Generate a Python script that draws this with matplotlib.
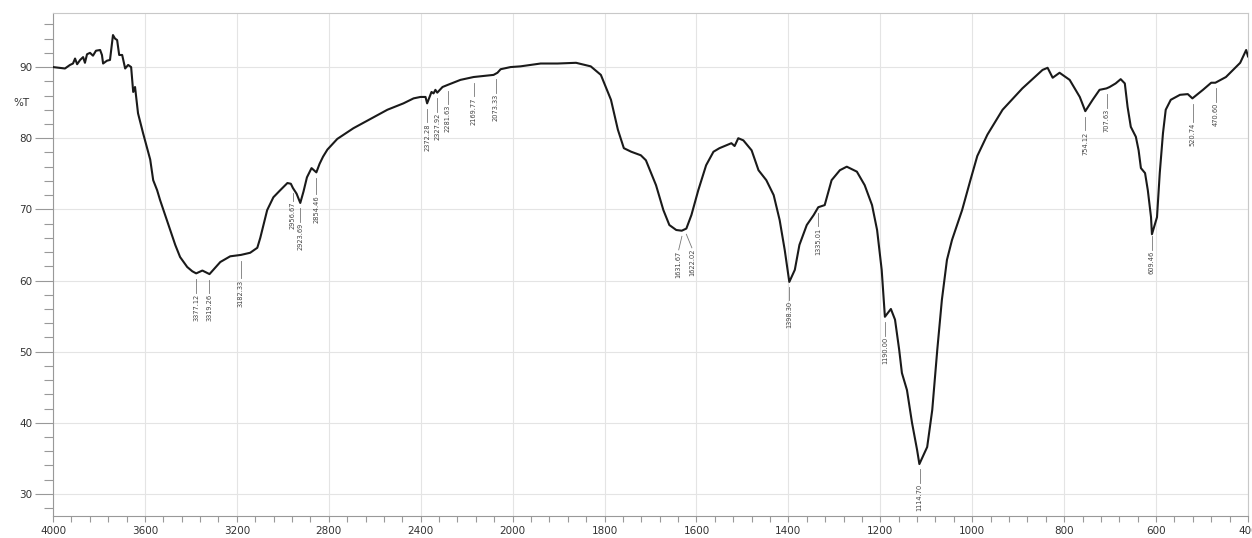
import numpy as np
import matplotlib
matplotlib.use("Agg")
from matplotlib import pyplot as plt
from matplotlib.ticker import FixedLocator, NullFormatter

# FTIR spectrum (wavenumber cm-1, %T)
wavenumber = [4000, 3948, 3926, 3913, 3904, 3895, 3882, 3869, 3861, 3852,
              3839, 3826, 3813, 3795, 3787, 3782, 3765, 3752, 3739, 3730,
              3721, 3712, 3699, 3686, 3673, 3660, 3651, 3643, 3630, 3608,
              3577, 3564, 3547, 3534, 3512, 3490, 3468, 3447, 3416, 3394,
              3377, 3350, 3319, 3272, 3229, 3182, 3142, 3111, 3098, 3068,
              3041, 3011, 2980, 2965, 2956, 2940, 2924, 2910, 2895, 2875,
              2854, 2840, 2825, 2806, 2763, 2693, 2619, 2545, 2475, 2431,
              2401, 2379, 2372, 2353, 2344, 2336, 2328, 2305, 2282, 2227,
              2170, 2083, 2066, 2052, 2009,
              1983, 1939, 1902, 1862, 1830, 1808, 1786, 1771, 1758, 1742,
              1721, 1710, 1688, 1672, 1659, 1644, 1632, 1622, 1611, 1596,
              1579, 1563, 1550, 1535, 1524, 1517, 1509, 1498, 1480, 1465,
              1448, 1432, 1419, 1408, 1398, 1386, 1376, 1360, 1345, 1335,
              1321, 1306, 1288, 1273, 1251, 1234, 1218, 1207, 1197, 1190,
              1177, 1168, 1159, 1153, 1142, 1131, 1120, 1115, 1098, 1087,
              1076, 1066, 1055, 1044, 1022, 1004, 989, 967, 934, 891,
              847, 836, 825, 810, 788, 766, 754, 738, 723, 708,
              701, 688, 677, 668, 662, 655, 644, 638, 633, 624,
              618, 611, 609, 598, 592, 585, 579, 568, 548, 531,
              521, 498, 480, 471, 448, 428, 417, 404, 400]
transmittance = [90.0, 89.8, 90.3, 90.5, 91.2, 90.4, 91.0, 91.4, 90.6, 91.8,
                 92.0, 91.6, 92.3, 92.4, 91.7, 90.5, 90.9, 91.0, 94.5, 94.0,
                 93.8, 91.7, 91.7, 89.8, 90.3, 90.0, 86.5, 87.2, 83.5, 80.7,
                 77.0, 74.1, 72.7, 71.3, 69.2, 67.1, 65.0, 63.3, 61.9, 61.3,
                 61.0, 61.4, 60.9, 62.6, 63.4, 63.6, 63.9, 64.6, 66.0, 69.9,
                 71.7, 72.7, 73.7, 73.6, 73.0, 72.2, 70.9, 72.5, 74.5, 75.8,
                 75.2, 76.4, 77.4, 78.4, 79.9, 81.4, 82.7, 84.0, 84.9, 85.6,
                 85.8, 85.8, 84.9, 86.5, 86.3, 86.8, 86.4, 87.2, 87.5, 88.2,
                 88.6, 88.9, 89.2, 89.7, 90.0,
                 90.1, 90.5, 90.5, 90.6, 90.1, 88.9, 85.4, 81.2, 78.6, 78.1,
                 77.6, 76.9, 73.4, 69.9, 67.8, 67.1, 67.0, 67.3, 69.2, 72.7,
                 76.2, 78.1, 78.6, 79.0, 79.3, 78.9, 80.0, 79.7, 78.3, 75.5,
                 74.1, 72.0, 68.5, 64.3, 59.8, 61.5, 65.0, 67.8, 69.2, 70.3,
                 70.6, 74.1, 75.5, 76.0, 75.3, 73.4, 70.6, 67.1, 61.5, 54.9,
                 56.0, 54.5, 50.3, 47.0, 44.6, 40.0, 36.2, 34.2, 36.6, 41.8,
                 50.3, 57.3, 62.9, 65.7, 69.9, 74.1, 77.5, 80.5, 84.0, 87.0,
                 89.6, 89.9, 88.5, 89.2, 88.2, 85.8, 83.8, 85.4, 86.8, 87.0,
                 87.2, 87.7, 88.3, 87.7, 84.4, 81.6, 80.2, 78.3, 75.8, 75.1,
                 72.7, 68.9, 66.5, 68.9, 75.1, 80.7, 84.0, 85.4, 86.1, 86.2,
                 85.6, 86.8, 87.8, 87.8, 88.6, 89.9, 90.6, 92.4, 91.5]

# picked peaks
peak_wn = [3377.12, 3319.26, 3182.33, 2956.67, 2923.69, 2854.46, 2372.28,
           2327.92, 2281.63, 2169.77, 2073.33, 1631.67, 1622.02, 1398.30,
           1335.01, 1190.00, 1114.70, 754.12, 707.63, 609.46, 520.74, 470.60]

x_major = [4000, 3600, 3200, 2800, 2400, 2000, 1800, 1600, 1400, 1200,
           1000, 800, 600, 400]
y_major = [30, 40, 50, 60, 70, 80, 90]


# the x axis is compressed 2x above 2000 cm-1, like the instrument printout
def fwd(x):
    x = np.asarray(x, dtype=float)
    return np.where(x >= 2000, 1000 + (x - 2000) / 2.0, x - 1000)


def inv(u):
    u = np.asarray(u, dtype=float)
    return np.where(u >= 1000, 2000 + (u - 1000) * 2.0, u + 1000)


fig = plt.figure(figsize=(12.52, 5.38), dpi=100)
ax = fig.add_axes([53 / 1252, 22 / 538, 1195 / 1252, 503 / 538])
ax.set_xscale('function', functions=(fwd, inv))
ax.set_xlim(4000, 400)
ax.set_ylim(26.9, 97.6)

ax.plot(wavenumber, transmittance, color='#1a1a1a', lw=1.5, zorder=3)

# peak labels: short stem under the curve, vertical number below it
wn_arr = np.array(wavenumber)[::-1]
t_arr = np.array(transmittance)[::-1]
shift = {1631.67: 7, 1622.02: -12}
stem = {2956.67: 1.0, 3182.33: 2.5, 2854.46: 2.3, 520.74: 2.5}
for p in peak_wn:
    t = np.interp(p, wn_arr, t_arr)
    top = t - 0.8
    bot = top - stem.get(p, 1.9)
    xt = p + shift.get(p, 0)
    ax.plot([p, xt], [top, bot], color='#777777', lw=0.6, zorder=2)
    ax.text(xt, bot - 0.15, '%.2f' % p, rotation=90, ha='center', va='top',
            fontsize=4.8, color='#444444', zorder=2)

minor_x = list(np.arange(4000, 2000, -80)) + list(np.arange(2000, 399, -40))
ax.xaxis.set_major_locator(FixedLocator(x_major))
ax.xaxis.set_minor_locator(FixedLocator(minor_x))
ax.xaxis.set_minor_formatter(NullFormatter())
ax.set_xticklabels([str(v) for v in x_major])
ax.yaxis.set_major_locator(FixedLocator(y_major))
ax.yaxis.set_minor_locator(FixedLocator(list(range(28, 97, 2))))

ax.tick_params(axis='x', which='both', direction='out', length=4, width=0.8,
               color='#999999', labelsize=7.5, labelcolor='#333333', pad=3)
ax.tick_params(axis='y', which='major', direction='out', length=13, width=0.8,
               color='#999999', labelsize=7.5, labelcolor='#333333', pad=2)
ax.tick_params(axis='y', which='minor', direction='out', length=6.5,
               width=0.8, color='#999999')

ax.grid(True, which='major', color='#e4e4e4', lw=0.8, zorder=0)
for s in ax.spines.values():
    s.set_color('#c8c8c8')
    s.set_linewidth(0.8)
ax.spines['left'].set_color('#999999')
ax.spines['bottom'].set_color('#999999')

fig.text(21 / 1252, 1 - 103 / 538, '%T', ha='center', va='center',
         fontsize=7.5, color='#333333')

fig.savefig('out.png', dpi=100)
